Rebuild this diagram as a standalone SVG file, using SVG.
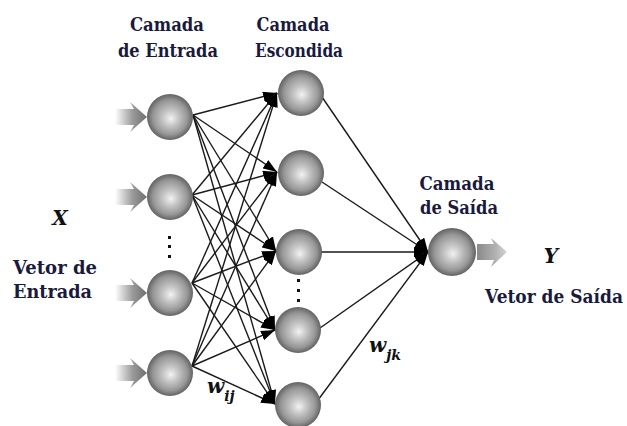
<svg xmlns="http://www.w3.org/2000/svg" width="627" height="426" viewBox="0 0 627 426">
<style>
.lbl{font-weight:700;font-size:19px;fill:#1a1a3c}
.var{font-weight:700;font-style:italic;fill:#111}
.ln{stroke:#1a1a1a;stroke-width:1.4;fill:none;marker-end:url(#ah)}
.node{fill:url(#sph)}
.dot{fill:#111}
</style>
<defs>
<radialGradient id="sph" cx="0.5" cy="0.5" r="0.5" fx="0.52" fy="0.54">
<stop offset="0" stop-color="#f2f2f2"/>
<stop offset="0.35" stop-color="#c4c4c4"/>
<stop offset="0.75" stop-color="#969696"/>
<stop offset="1" stop-color="#626262"/>
</radialGradient>
<linearGradient id="inArr" x1="0" y1="0" x2="1" y2="0">
<stop offset="0" stop-color="#ffffff"/>
<stop offset="0.55" stop-color="#9a9a9a"/>
<stop offset="1" stop-color="#6e6e6e"/>
</linearGradient>
<linearGradient id="outArr" x1="0" y1="0" x2="1" y2="0">
<stop offset="0" stop-color="#8a8a8a"/>
<stop offset="0.6" stop-color="#b0b0b0"/>
<stop offset="1" stop-color="#d6d6d6"/>
</linearGradient>
<marker id="ah" markerUnits="userSpaceOnUse" markerWidth="14" markerHeight="10" refX="14" refY="5" orient="auto">
<path d="M0,0 L14,5 L0,10 z" fill="#000"/>
</marker>
<polygon id="arrowIn" points="-32,-8 -13,-8 -17,-15 0,0 -17,15 -13,8 -32,8"/>
</defs>

<g id="connectors">
<line class="ln" x1="193" y1="115" x2="277" y2="93"/>
<line class="ln" x1="193" y1="115" x2="277" y2="172"/>
<line class="ln" x1="193" y1="115" x2="276" y2="251"/>
<line class="ln" x1="193" y1="115" x2="275" y2="330"/>
<line class="ln" x1="193" y1="115" x2="275" y2="404"/>
<line class="ln" x1="192" y1="195" x2="277" y2="93"/>
<line class="ln" x1="192" y1="195" x2="277" y2="172"/>
<line class="ln" x1="192" y1="195" x2="276" y2="251"/>
<line class="ln" x1="192" y1="195" x2="275" y2="330"/>
<line class="ln" x1="192" y1="195" x2="275" y2="404"/>
<line class="ln" x1="192" y1="283" x2="277" y2="93"/>
<line class="ln" x1="192" y1="283" x2="277" y2="172"/>
<line class="ln" x1="192" y1="283" x2="276" y2="251"/>
<line class="ln" x1="192" y1="283" x2="275" y2="330"/>
<line class="ln" x1="192" y1="283" x2="275" y2="404"/>
<line class="ln" x1="192" y1="366" x2="277" y2="93"/>
<line class="ln" x1="192" y1="366" x2="277" y2="172"/>
<line class="ln" x1="192" y1="366" x2="276" y2="251"/>
<line class="ln" x1="192" y1="366" x2="275" y2="330"/>
<line class="ln" x1="192" y1="366" x2="275" y2="404"/>
<line class="ln" x1="322" y1="97" x2="428" y2="252"/>
<line class="ln" x1="322" y1="182" x2="428" y2="252"/>
<line class="ln" x1="322" y1="252" x2="428" y2="252"/>
<line class="ln" x1="320" y1="328" x2="428" y2="252"/>
<line class="ln" x1="318" y1="400" x2="428" y2="252"/>
</g>

<g id="input-arrows">
<use href="#arrowIn" x="147" y="117" fill="url(#inArr)"/>
<use href="#arrowIn" x="147" y="197" fill="url(#inArr)"/>
<use href="#arrowIn" x="147" y="293" fill="url(#inArr)"/>
<use href="#arrowIn" x="147" y="373" fill="url(#inArr)"/>
</g>

<g id="input-layer">
<circle id="in1" class="node" cx="170" cy="117" r="23"/>
<circle id="in2" class="node" cx="170" cy="197" r="23"/>
<circle id="in3" class="node" cx="170" cy="293" r="23"/>
<circle id="in4" class="node" cx="170" cy="373" r="23"/>
<rect class="dot" x="168" y="236" width="3" height="3"/>
<rect class="dot" x="168" y="245" width="3" height="3"/>
<rect class="dot" x="168" y="255" width="3" height="3"/>
</g>

<g id="hidden-layer">
<circle id="h1" class="node" cx="301" cy="93" r="23"/>
<circle id="h2" class="node" cx="301" cy="173" r="23"/>
<circle id="h3" class="node" cx="299" cy="252" r="23"/>
<circle id="h4" class="node" cx="298" cy="330" r="23"/>
<circle id="h5" class="node" cx="298" cy="405" r="23"/>
<rect class="dot" x="297" y="279" width="3" height="3"/>
<rect class="dot" x="297" y="289" width="3" height="3"/>
<rect class="dot" x="297" y="299" width="3" height="3"/>
</g>

<g id="output-layer">
<circle id="out" class="node" cx="452" cy="252" r="24"/>
<polygon id="out-arrow" points="477,244 494,244 491,238 507,252 491,267 494,260 477,260" fill="url(#outArr)"/>
</g>

<g id="labels" font-family="DejaVu Serif, Liberation Serif, serif">
<text class="lbl" x="167" y="31" text-anchor="middle" textLength="74" lengthAdjust="spacingAndGlyphs">Camada</text>
<text class="lbl" x="168" y="57" text-anchor="middle" textLength="100" lengthAdjust="spacingAndGlyphs">de Entrada</text>
<text class="lbl" x="293" y="31" text-anchor="middle" textLength="73" lengthAdjust="spacingAndGlyphs">Camada</text>
<text class="lbl" x="299" y="57" text-anchor="middle" textLength="88" lengthAdjust="spacingAndGlyphs">Escondida</text>
<text class="lbl" x="457" y="190" text-anchor="middle" textLength="75" lengthAdjust="spacingAndGlyphs">Camada</text>
<text class="lbl" x="459" y="214" text-anchor="middle" textLength="78" lengthAdjust="spacingAndGlyphs">de Saída</text>
<text class="lbl" x="13" y="274" textLength="84" lengthAdjust="spacingAndGlyphs">Vetor de</text>
<text class="lbl" x="13" y="298" textLength="79" lengthAdjust="spacingAndGlyphs">Entrada</text>
<text class="lbl" transform="translate(485,303) scale(0.857,1)" x="0" y="0" textLength="161" lengthAdjust="spacingAndGlyphs">Vetor de Saída</text>
<text class="var" x="60" y="225" font-size="20" text-anchor="middle">X</text>
<text class="var" x="551" y="263" font-size="20" text-anchor="middle">Y</text>
<text class="var" x="207" y="393" font-size="20">w<tspan font-size="14" dy="8">ij</tspan></text>
<text class="var" x="369" y="352" font-size="20">w<tspan font-size="14" dy="8">jk</tspan></text>
</g>
</svg>
